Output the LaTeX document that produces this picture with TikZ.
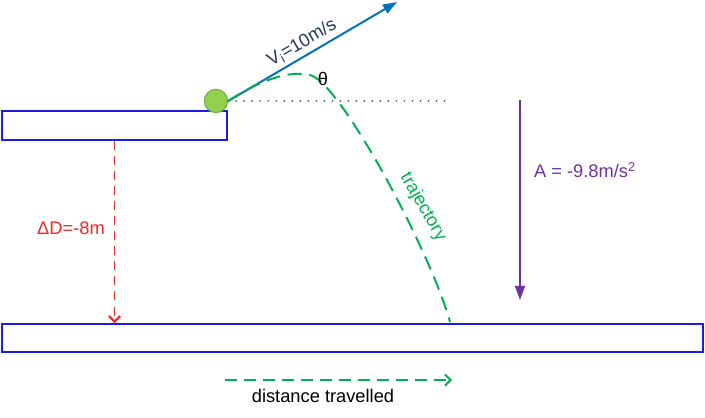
\documentclass[tikz,border=0pt]{standalone}
\usepackage{fontspec}
\setsansfont{Liberation Sans}
\usepackage{xcolor}
\usetikzlibrary{arrows.meta, positioning, calc}
\definecolor{platformblue}{RGB}{26, 26, 235}
\definecolor{ballgreen}{RGB}{146, 208, 80}
\definecolor{ballborder}{RGB}{112, 173, 71}
\definecolor{velblue}{RGB}{0, 112, 192}
\definecolor{velnavy}{RGB}{32, 56, 100}
\definecolor{pathgreen}{RGB}{0, 176, 80}
\definecolor{dropred}{RGB}{240, 40, 40}
\definecolor{accpurple}{RGB}{112, 48, 160}

\begin{document}
\begin{tikzpicture}[
    x=0.025cm, y=-0.025cm,
    font=\sffamily\fontsize{13}{15}\selectfont,
    platform/.style={draw=platformblue, line width=1.4pt, rectangle, inner sep=0pt},
    solidarrow/.style={line width=1.4pt, -{Triangle[length=10pt, width=7pt]}},
    dasharrow/.style={line width=1.4pt, dash pattern=on 7pt off 4.5pt, -{Straight Barb[length=4pt, width=8pt]}},
    label/.style={inner sep=1pt}
]
    \useasboundingbox (0,0) rectangle (705,417);

    \node[platform, minimum width=5.625cm, minimum height=0.725cm] (ledge) at (114.5,125.5) {};
    \node[platform, minimum width=17.525cm, minimum height=0.7cm] (ground) at (352.5,338) {};
    \node[circle, fill=ballgreen, draw=ballborder, line width=0.8pt, minimum size=0.58cm, inner sep=0pt] (ball) at (216,101) {};

    \coordinate (vtip) at (397,2);
    \coordinate (level) at (450,101);
    \coordinate (peak) at (310,75);
    \coordinate (land) at (450,322);
    \coordinate (acctop) at (520,100);
    \coordinate (accbot) at (520,300);
    \coordinate (runstart) at (225,380);
    \coordinate (runend) at (452,380);

    % launch velocity and horizontal reference
    \draw[solidarrow, velblue] (ball.east) -- (vtip);
    \draw[black!65, line width=1.4pt, line cap=round, dash pattern=on 0pt off 5.7pt] (ball.east) -- (level);

    % flight path
    \draw[pathgreen, line width=1.4pt, dash pattern=on 10pt off 5.5pt]
        (ball.east) .. controls (260,80) and (290,70) .. (peak)
        .. controls (340,82) and (430,250) .. (land);

    \draw[dasharrow, dropred, dash pattern=on 6.4pt off 4.3pt] (ledge.south) -- (ledge.south |- ground.north);
    \draw[solidarrow, accpurple] (acctop) -- (accbot);
    \draw[dasharrow, pathgreen, dash pattern=on 8.5pt off 5pt] (runstart) -- (runend);

    \node[label, velnavy, rotate=30] (vlabel) at (302,43) {V\textsubscript{i}=10m/s};
    \node[label] (theta) at (323,79) {θ};
    \node[label, pathgreen, rotate=-60] (trajlabel) at (423,207) {trajectory};
    \node[label, dropred] (droplabel) at (71,228) {ΔD=-8m};
    \node[label, accpurple] (acclabel) at (585,170) {A = -9.8m/s\textsuperscript{2}};
    \node[label] (runlabel) at (323,396) {distance travelled};
\end{tikzpicture}
\end{document}
